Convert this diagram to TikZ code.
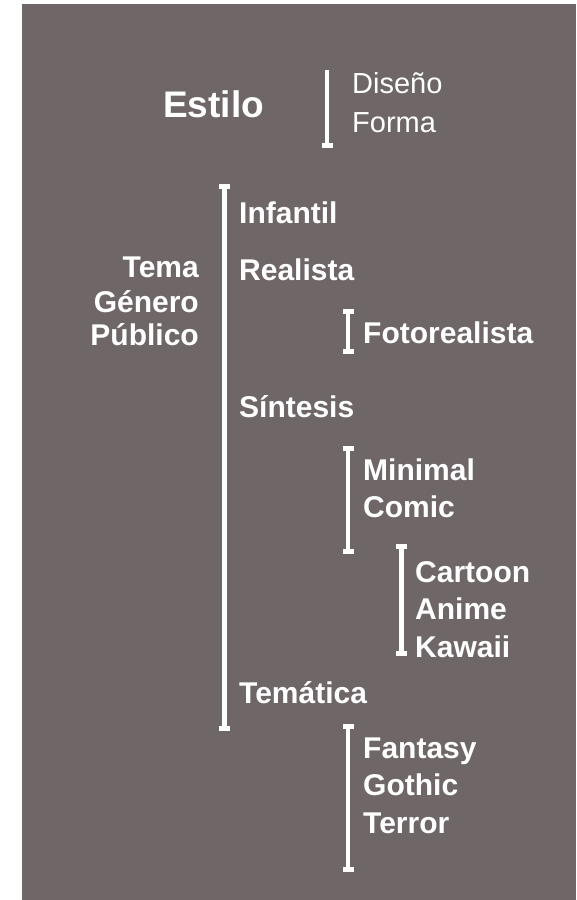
\documentclass[tikz,border=0pt]{standalone}
\usepackage{fontspec}
\setmainfont{Liberation Sans}
\definecolor{fondo}{RGB}{111,103,103}

\begin{document}
\begin{tikzpicture}[x=1pt,y=-1pt,
		etiqueta/.style={anchor=base west,inner sep=0pt,text=white,font=\fontsize{30}{36}\selectfont\bfseries},
		etiquetader/.style={etiqueta,anchor=base east},
		suave/.style={etiqueta,font=\fontsize{29}{35}\selectfont},
		titulo/.style={etiqueta,font=\fontsize{37}{44}\selectfont\bfseries},
		barra/.style={white,line width=4.5pt}]
		\useasboundingbox (0,0) rectangle (576,900);
		%draw background
		\fill[white] (0,0) rectangle (576,900);
		\fill[fondo] (22,4) rectangle (576,900);
		%draw brackets
		\foreach \x/\ya/\yb in {224.5/184/731, 348/309/354, 348/446/554, 401.5/544/656, 348/724/872}{
			\draw[barra] (\x,\ya) -- (\x,\yb);
			\fill[white] (\x-5.5,\ya) rectangle (\x+5.5,\ya+5);
			\fill[white] (\x-5.5,\yb-5) rectangle (\x+5.5,\yb);
		}
		\draw[barra] (327,70) -- (327,148);
		\fill[white] (321.5,143) rectangle (332.5,148);
		%draw nodes
		\node[titulo] (estilo) at (163,117) {Estilo};
		\node[suave] (diseno) at (352,93) {Diseño};
		\node[suave] (forma) at (352,132) {Forma};
		\node[etiquetader] (tema) at (199,277) {Tema};
		\node[etiquetader] (genero) at (199,312) {Género};
		\node[etiquetader] (publico) at (199,345) {Público};
		\node[etiqueta] (infantil) at (239,223) {Infantil};
		\node[etiqueta] (realista) at (239,280) {Realista};
		\node[etiqueta] (foto) at (363,343) {Fotorealista};
		\node[etiqueta] (sintesis) at (239,417) {Síntesis};
		\node[etiqueta] (minimal) at (363,480) {Minimal};
		\node[etiqueta] (comic) at (363,517) {Comic};
		\node[etiqueta] (cartoon) at (415,582) {Cartoon};
		\node[etiqueta] (anime) at (415,619) {Anime};
		\node[etiqueta] (kawaii) at (415,657) {Kawaii};
		\node[etiqueta] (tematica) at (239,703) {Temática};
		\node[etiqueta] (fantasy) at (363,758) {Fantasy};
		\node[etiqueta] (gothic) at (363,795) {Gothic};
		\node[etiqueta] (terror) at (363,833) {Terror};
\end{tikzpicture}
\end{document}
